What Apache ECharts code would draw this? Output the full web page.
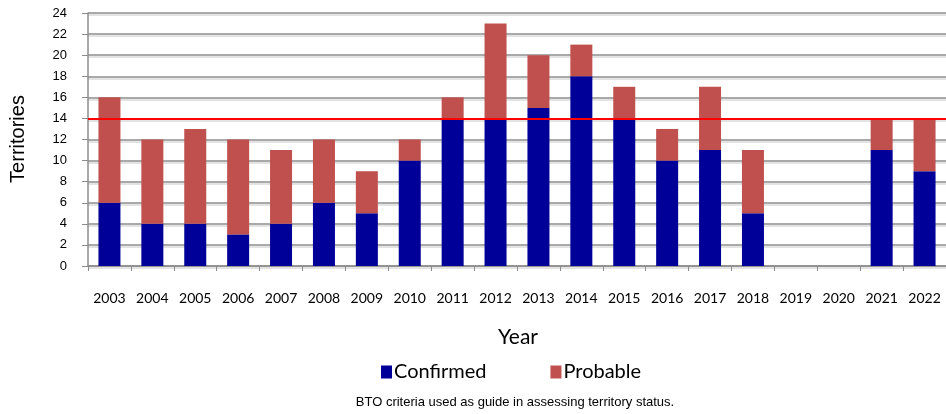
<!DOCTYPE html>
<html><head><meta charset="utf-8">
<script src="https://cdn.jsdelivr.net/npm/echarts@6/dist/echarts.min.js"></script>
<style>html,body{margin:0;padding:0;background:#fff}#c{width:946px;height:414px}</style>
</head><body><div id="c"></div>
<script>
const years = ['2003','2004','2005','2006','2007','2008','2009','2010','2011','2012','2013','2014','2015','2016','2017','2018','2019','2020','2021','2022'];
const confirmed = [6,4,4,3,4,6,5,10,14,14,15,18,14,10,11,5,0,0,11,9];
const probable = [10,8,9,9,7,6,4,2,2,9,5,3,3,3,6,6,0,0,3,5];
const threshold = 14;
const yTicks = {min:0, max:24, interval:2};

const chart = echarts.init(document.getElementById('c'));
const narrow = 'Lato, "Open Sans", sans-serif';
chart.setOption({
  animation:false,
  grid:{left:88,right:0,top:13,bottom:148},
  title:[
    {text:'Year',left:518,top:327,textAlign:'center',padding:0,
     textStyle:{fontFamily:narrow,fontSize:21,fontWeight:'normal',color:'#000'}},
    {text:'BTO criteria used as guide in assessing territory status.',left:515,top:396,textAlign:'center',padding:0,
     textStyle:{fontFamily:'"Liberation Sans Narrow","Liberation Sans",Arial,sans-serif',fontSize:13,fontWeight:'normal',color:'#000'}}
  ],
  graphic:[{type:'text',x:18,y:139,rotation:Math.PI/2,
    style:{text:'Territories',fontFamily:'"Liberation Sans",Arial,sans-serif',fontSize:20,fill:'#000',align:'center',verticalAlign:'middle'}}],
  legend:{left:381,top:362,padding:0,itemGap:64,itemWidth:11,itemHeight:13,icon:'rect',
    textStyle:{fontFamily:narrow,fontSize:20,color:'#000',padding:[0,0,0,-3]},
    data:['Confirmed','Probable']},
  xAxis:{type:'category',data:years,
    axisLine:{lineStyle:{color:'#8c8c8c',width:1.5}},
    axisTick:{show:true,length:5,lineStyle:{color:'#8c8c8c'}},
    axisLabel:{margin:25,fontFamily:narrow,fontSize:14,color:'#000',interval:0}},
  yAxis:{type:'value',min:yTicks.min,max:yTicks.max,interval:yTicks.interval,
    axisLine:{show:true,lineStyle:{color:'#8c8c8c',width:1.5}},
    axisTick:{show:true,length:6,lineStyle:{color:'#8c8c8c'}},
    axisLabel:{margin:21,fontFamily:'"Liberation Sans",Arial,sans-serif',fontSize:13,color:'#000'},
    splitLine:{lineStyle:{color:'#8c8c8c',width:1.5,shadowColor:'#dadada',shadowOffsetY:2,shadowBlur:0}}},
  series:[
    {name:'Confirmed',type:'bar',stack:'t',data:confirmed,barWidth:22,itemStyle:{color:'#000099'},
     markLine:{silent:true,symbol:'none',label:{show:false},lineStyle:{color:'#ff0000',width:2,type:'solid'},data:[{yAxis:threshold}]}},
    {name:'Probable',type:'bar',stack:'t',data:probable,barWidth:22,itemStyle:{color:'#C0504D'}}
  ]
});
</script></body></html>
